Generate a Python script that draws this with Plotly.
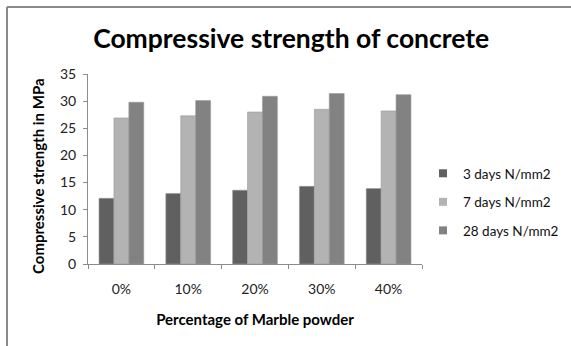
import plotly.graph_objects as go

categories = ["0%", "10%", "20%", "30%", "40%"]
days3 = [12.1, 13.0, 13.6, 14.3, 13.9]
days7 = [26.9, 27.3, 28.0, 28.5, 28.2]
days28 = [29.8, 30.1, 30.9, 31.4, 31.2]

series = [
    ("3 days N/mm2", days3, "#606060"),
    ("7 days N/mm2", days7, "#b3b3b3"),
    ("28 days N/mm2", days28, "#828282"),
]

FONT = "Lato, Open Sans, sans-serif"

fig = go.Figure()
for i, (name, vals, col) in enumerate(series):
    fig.add_trace(go.Bar(
        x=categories, y=vals, name=name, showlegend=False,
        marker=dict(color=col, line=dict(color="#9a9a9a", width=0.6)),
    ))
    # legend entry with a small square key
    fig.add_trace(go.Scatter(
        x=[None], y=[None], mode="markers", name=name,
        marker=dict(symbol="square", size=8, color=col),
        legendgroup=f"g{i}",
    ))

# plot area geometry (pixels) for the outer frame lines
L, R, T, B = 88, 149, 74, 82
W, H = 571, 346
pw, ph = W - L - R, H - T - B
fx = (7 - L) / pw
fy = (H - B - 7) / ph

fig.update_layout(
    width=W, height=H,
    margin=dict(l=L, r=R, t=T, b=B, autoexpand=False),
    paper_bgcolor="white", plot_bgcolor="white",
    barmode="group", bargap=0.33, bargroupgap=0,
    font=dict(family=FONT, size=14, color="#222"),
    title=dict(
        text="<b>Compressive strength of concrete</b>",
        font=dict(family=FONT, size=26.5, color="#000"),
        x=0.51, xanchor="center", y=1 - 39 / H, yanchor="middle",
    ),
    legend=dict(
        xref="container", yref="container",
        x=423 / W, xanchor="left", y=1 - 202 / H, yanchor="middle",
        font=dict(family=FONT, size=13.5, color="#111"),
        tracegroupgap=8, itemwidth=30,
    ),
    xaxis=dict(
        showline=True, linecolor="#8c8c8c", linewidth=1,
        ticks="outside", ticklen=4, tickcolor="#8c8c8c",
        tickson="boundaries", showgrid=False, ticklabelstandoff=12,
        tickfont=dict(family=FONT, size=14, color="#222"),
        title=dict(text="<b>Percentage of Marble powder</b>",
                   font=dict(family=FONT, size=15, color="#000"), standoff=18),
    ),
    yaxis=dict(
        range=[0, 35], dtick=5,
        showline=True, linecolor="#8c8c8c", linewidth=1,
        ticks="outside", ticklen=4, tickcolor="#8c8c8c",
        showgrid=False, zeroline=False, ticklabelstandoff=4,
        tickfont=dict(family=FONT, size=14, color="#222"),
    ),
    annotations=[
        dict(text="<b>Compressive strength in MPa</b>", textangle=-90,
             xref="paper", yref="paper", x=(38 - L) / pw, y=(H - B - 176) / ph,
             xanchor="center", yanchor="middle", showarrow=False,
             font=dict(family=FONT, size=15, color="#000")),
    ],
    shapes=[
        dict(type="line", xref="paper", yref="paper",
             x0=fx, x1=fx, y0=-1, y1=fy, line=dict(color="#8a8a8a", width=2)),
        dict(type="line", xref="paper", yref="paper",
             x0=fx, x1=3, y0=fy, y1=fy, line=dict(color="#8a8a8a", width=2)),
    ],
)

fig.write_html("out.html")
